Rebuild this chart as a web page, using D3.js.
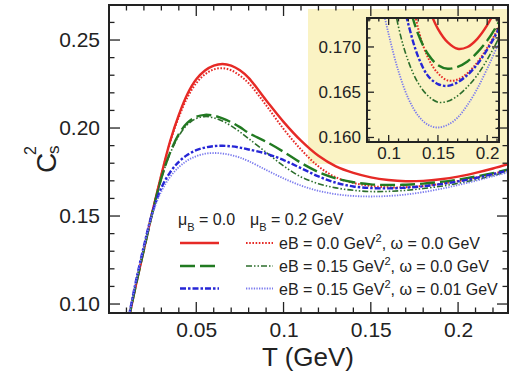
<!DOCTYPE html>
<html>
<head>
<meta charset="utf-8">
<style>
  body { margin: 0; background: #fff; }
  svg { display: block; font-family: "Liberation Sans", Arial, Helvetica, sans-serif; }
</style>
</head>
<body>
<svg width="513" height="373"></svg>
<script src="https://cdn.jsdelivr.net/npm/d3@7/dist/d3.min.js"></script>
<script>

// temperature grid (GeV)
var temps = [0.011, 0.015, 0.02, 0.025, 0.03, 0.035, 0.04, 0.045, 0.05, 0.055,
             0.06, 0.065, 0.07, 0.075, 0.08, 0.09, 0.10, 0.11, 0.12, 0.13,
             0.14, 0.15, 0.16, 0.17, 0.18, 0.19, 0.20, 0.21, 0.22, 0.23];

// c_s^2, muB = 0.0
var csB0w0 = [0.090, 0.109, 0.131, 0.153, 0.1735, 0.1925, 0.2075, 0.2195, 0.2277, 0.2327,
              0.2355, 0.2364, 0.2355, 0.2328, 0.2285, 0.2158, 0.2035, 0.1928, 0.1842, 0.1782,
              0.1745, 0.1720, 0.1705, 0.1698, 0.1700, 0.1709, 0.1724, 0.1745, 0.1770, 0.1798];
var csB15w0 = [0.090, 0.109, 0.131, 0.1525, 0.1715, 0.1860, 0.1965, 0.2030, 0.2064, 0.2075,
               0.2070, 0.2055, 0.2033, 0.2005, 0.1972, 0.1922, 0.1865, 0.1802, 0.1750, 0.1714,
               0.1692, 0.1680, 0.1676, 0.1678, 0.1684, 0.1694, 0.1707, 0.1724, 0.1744, 0.1768];
var csB15w01 = [0.091, 0.111, 0.133, 0.1525, 0.1660, 0.1748, 0.1808, 0.1848, 0.1874, 0.1889,
                0.1897, 0.1899, 0.1896, 0.1889, 0.1878, 0.1855, 0.1818, 0.1772, 0.1725, 0.1689,
                0.1668, 0.1659, 0.1657, 0.1661, 0.1669, 0.1681, 0.1697, 0.1716, 0.1738, 0.1763];

// c_s^2, muB = 0.2 GeV
var csMuB0w0 = [0.090, 0.109, 0.131, 0.153, 0.1733, 0.1918, 0.2062, 0.2175, 0.2255, 0.2305,
                0.2333, 0.2340, 0.2328, 0.2298, 0.2255, 0.2130, 0.1995, 0.1878, 0.1782, 0.1720,
                0.1688, 0.1671, 0.1663, 0.1664, 0.1671, 0.1683, 0.1699, 0.1718, 0.1740, 0.1765];
var csMuB15w0 = [0.090, 0.109, 0.131, 0.1525, 0.1712, 0.1855, 0.1955, 0.2020, 0.2054, 0.2065,
                 0.2058, 0.2040, 0.2012, 0.1978, 0.1940, 0.1862, 0.1785, 0.1722, 0.1684, 0.1660,
                 0.1646, 0.1639, 0.1640, 0.1646, 0.1656, 0.1669, 0.1686, 0.1706, 0.1730, 0.1756];
var csMuB15w01 = [0.091, 0.111, 0.1325, 0.1515, 0.1640, 0.1722, 0.1778, 0.1816, 0.1840, 0.1854,
                  0.1858, 0.1855, 0.1846, 0.1832, 0.1812, 0.1762, 0.1714, 0.1673, 0.1643, 0.1624,
                  0.1614, 0.1611, 0.1614, 0.1622, 0.1636, 0.1654, 0.1676, 0.1700, 0.1726, 0.1752];

// ticks
var xMajor = [0.05, 0.1, 0.15, 0.2];
var yMajor = [0.10, 0.15, 0.20, 0.25];
var xInsetMajor = [0.1, 0.15, 0.2];
var yInsetMajor = [0.160, 0.165, 0.170];

// legend
var legendEB = ["0.0", "0.15", "0.15"];
var legendOmega = ["0.0", "0.0", "0.01"];

var styles = [
  { values: csB0w0,     color: "#e62a26", width: 2.4, dash: null },
  { values: csMuB0w0,   color: "#e62a26", width: 2.0, dash: "1.6,1.6" },
  { values: csB15w0,    color: "#217a21", width: 2.4, dash: "15,5" },
  { values: csMuB15w0,  color: "#2c6e2c", width: 1.6, dash: "6,2,1.5,2,1.5,2" },
  { values: csB15w01,   color: "#2626d6", width: 2.4, dash: "6,2,2.5,2" },
  { values: csMuB15w01, color: "#7a7aee", width: 1.8, dash: "1.3,1.3" }
];

var svg = d3.select("svg");

var x = d3.scaleLinear().domain([0, 0.2286]).range([109, 508]);
var y = d3.scaleLinear().domain([0.0949, 0.2699]).range([313, 5]);
var xi = d3.scaleLinear().domain([0.078, 0.212]).range([367, 499]);
var yi = d3.scaleLinear().domain([0.1595, 0.1732]).range([142, 18]);

var defs = svg.append("defs");
defs.append("clipPath").attr("id", "clipMain").append("rect")
    .attr("x", 109).attr("y", 5).attr("width", 399).attr("height", 308);
defs.append("clipPath").attr("id", "clipInset").append("rect")
    .attr("x", 367).attr("y", 18).attr("width", 132).attr("height", 124);

function drawCurves(g, sx, sy) {
  var line = d3.line()
      .x(function(d) { return sx(d[0]); })
      .y(function(d) { return sy(d[1]); })
      .curve(d3.curveCatmullRom.alpha(0.5));
  styles.forEach(function(s) {
    g.append("path")
        .datum(temps.map(function(t, i) { return [t, s.values[i]]; }))
        .attr("fill", "none")
        .attr("stroke", s.color)
        .attr("stroke-width", s.width)
        .attr("stroke-dasharray", s.dash)
        .attr("d", line);
  });
}

function range(a, b, step) {
  return d3.range(Math.round(a / step), Math.round(b / step) + 1).map(function(k) { return +(k * step).toFixed(4); });
}

// draws inward ticks on all four sides of a frame
function frameTicks(sx, sy, xMaj, xMin, yMaj, yMin, big, small) {
  var x0 = sx.range()[0], x1 = sx.range()[1], y0 = sy.range()[0], y1 = sy.range()[1];
  var g = svg.append("g").attr("stroke", "#222").attr("stroke-width", 1.3);
  xMin.forEach(function(v) {
    var len = xMaj.some(function(m) { return Math.abs(m - v) < 1e-6; }) ? big : small;
    g.append("line").attr("x1", sx(v)).attr("x2", sx(v)).attr("y1", y0).attr("y2", y0 - len);
    g.append("line").attr("x1", sx(v)).attr("x2", sx(v)).attr("y1", y1).attr("y2", y1 + len);
  });
  yMin.forEach(function(v) {
    var len = yMaj.some(function(m) { return Math.abs(m - v) < 1e-6; }) ? big : small;
    g.append("line").attr("y1", sy(v)).attr("y2", sy(v)).attr("x1", x0).attr("x2", x0 + len);
    g.append("line").attr("y1", sy(v)).attr("y2", sy(v)).attr("x1", x1).attr("x2", x1 - len);
  });
  svg.append("rect")
      .attr("x", x0).attr("y", y1).attr("width", x1 - x0).attr("height", y0 - y1)
      .attr("fill", "none").attr("stroke", "#222").attr("stroke-width", 2);
}

// inset pad background, then main curves on top of it
svg.append("rect")
    .attr("x", 308).attr("y", 9).attr("width", 200).attr("height", 155)
    .attr("fill", "#faf3c4");
drawCurves(svg.append("g").attr("clip-path", "url(#clipMain)"), x, y);

// inset
svg.append("rect")
    .attr("x", 367).attr("y", 18).attr("width", 132).attr("height", 124)
    .attr("fill", "#faf3c4");
drawCurves(svg.append("g").attr("clip-path", "url(#clipInset)"), xi, yi);
frameTicks(xi, yi, xInsetMajor, range(0.08, 0.21, 0.01), yInsetMajor, range(0.160, 0.173, 0.001), 7, 3.5);

svg.append("g")
    .attr("transform", "translate(367,0)")
    .call(d3.axisLeft(yi).tickValues(yInsetMajor).tickSize(0).tickPadding(6).tickFormat(d3.format(".3f")))
    .call(function(g) { g.select(".domain").remove(); })
    .selectAll("text").attr("font-size", 17).attr("fill", "#222").attr("font-family", null);
svg.append("g")
    .attr("transform", "translate(0,142)")
    .call(d3.axisBottom(xi).tickValues(xInsetMajor).tickSize(0).tickPadding(5).tickFormat(d3.format("")))
    .call(function(g) { g.select(".domain").remove(); })
    .selectAll("text").attr("font-size", 17).attr("fill", "#222").attr("font-family", null);

// main frame
frameTicks(x, y, xMajor, range(0.01, 0.22, 0.01), yMajor, range(0.10, 0.26, 0.01), 11, 5.5);

svg.append("g")
    .attr("transform", "translate(109,0)")
    .call(d3.axisLeft(y).tickValues(yMajor).tickSize(0).tickPadding(9).tickFormat(d3.format(".2f")))
    .call(function(g) { g.select(".domain").remove(); })
    .selectAll("text").attr("font-size", 21).attr("fill", "#222").attr("font-family", null);
svg.append("g")
    .attr("transform", "translate(0,313)")
    .call(d3.axisBottom(x).tickValues(xMajor).tickSize(0).tickPadding(9).tickFormat(d3.format("")))
    .call(function(g) { g.select(".domain").remove(); })
    .selectAll("text").attr("font-size", 21).attr("fill", "#222").attr("font-family", null);

// axis titles
svg.append("text")
    .attr("x", 308).attr("y", 366)
    .attr("text-anchor", "middle")
    .attr("font-size", 26).attr("fill", "#222")
    .text("T (GeV)");

var yt = svg.append("g").attr("transform", "translate(56,158) rotate(-90)").attr("fill", "#222");
yt.append("text").attr("x", -15).attr("y", 0).attr("font-size", 28).text("C");
yt.append("text").attr("x", 3).attr("y", -20).attr("font-size", 16).text("2");
yt.append("text").attr("x", 4).attr("y", 3).attr("font-size", 17).text("s");

// legend
var lg = svg.append("g").attr("fill", "#222").attr("font-size", 16);
function muHeader(px, label) {
  var t = lg.append("text").attr("x", px).attr("y", 225);
  t.append("tspan").text("\u03bc");
  t.append("tspan").attr("font-size", 11).attr("dy", 6).text("B");
  t.append("tspan").attr("dy", -6).text(" = " + label);
}
muHeader(178, "0.0");
muHeader(250, "0.2 GeV");

var rowY = [243, 266, 288.5];
rowY.forEach(function(ry, i) {
  [styles[2 * i], styles[2 * i + 1]].forEach(function(s, j) {
    lg.append("line")
        .attr("x1", j ? 246 : 180).attr("x2", j ? 273 : 219)
        .attr("y1", ry).attr("y2", ry)
        .attr("stroke", s.color)
        .attr("stroke-width", s.width)
        .attr("stroke-dasharray", s.dash);
  });
  var t = lg.append("text").attr("x", 279).attr("y", ry + 6);
  t.append("tspan").text("eB = " + legendEB[i] + " GeV");
  t.append("tspan").attr("font-size", 11).attr("dy", -7).text("2");
  t.append("tspan").attr("dy", 7).text(", \u03c9 = " + legendOmega[i] + " GeV");
});

</script>
</body>
</html>
